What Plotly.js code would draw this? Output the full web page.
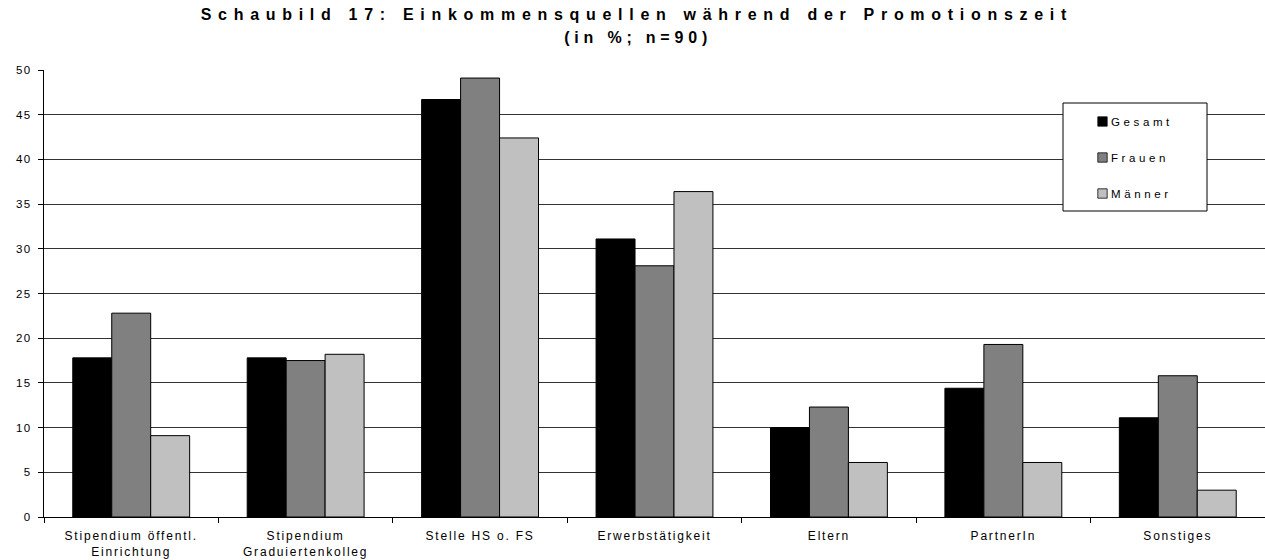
<!DOCTYPE html>
<html>
<head>
<meta charset="utf-8">
<script src="https://cdn.plot.ly/plotly-3.0.1.min.js"></script>
<style>
  html, body { margin: 0; padding: 0; background: #fff; }
  #chart { width: 1265px; height: 560px; }
  .annotation[data-index="0"] .annotation-text { letter-spacing: 6.7px; }
  .annotation[data-index="1"] .annotation-text { letter-spacing: 4.8px; }
  .xtick text { letter-spacing: 1.8px; }
  .ytick text { letter-spacing: 1.5px; }
  .legendtext { letter-spacing: 3.6px; }
  .legend .legendpoints path { transform: translateX(31.5px) scale(0.78); }
</style>
</head>
<body>
<div id="chart"></div>
<script>
const categories = [
  "Stipendium öffentl.<br>Einrichtung",
  "Stipendium<br>Graduiertenkolleg",
  "Stelle HS o. FS",
  "Erwerbstätigkeit",
  "Eltern",
  "PartnerIn",
  "Sonstiges"
];
const gesamt = [17.8, 17.8, 46.7, 31.1, 10.0, 14.4, 11.1];
const frauen = [22.8, 17.5, 49.1, 28.1, 12.3, 19.3, 15.8];
const maenner = [9.1, 18.2, 42.4, 36.4, 6.1, 6.1, 3.0];
const seriesNames = ["Gesamt", "Frauen", "Männer"];
const yTickVals = [0, 5, 10, 15, 20, 25, 30, 35, 40, 45, 50];
const titleLine = "Schaubild 17: Einkommensquellen während der Promotionszeit";
const subtitleLine = "(in %; n=90)";

const colors = ["#000000", "#808080", "#c0c0c0"];
const allSeries = [gesamt, frauen, maenner];

const traces = allSeries.map((vals, i) => ({
  type: "bar",
  name: seriesNames[i],
  x: categories,
  y: vals,
  legendgroup: "g" + i,
  marker: { color: colors[i], line: { color: "#000000", width: 1 } },
  hoverinfo: "x+y+name"
}));

const font = "'Liberation Sans', Arial, sans-serif";

// plot area: x 44..1265, y 70..517 (px)
const px2x = (px) => (px - 44) / 1221;
const px2y = (py) => (517 - py) / 447;

const layout = {
  width: 1265,
  height: 560,
  paper_bgcolor: "#ffffff",
  plot_bgcolor: "#ffffff",
  margin: { l: 44, r: 0, t: 70, b: 43 },
  font: { family: font, size: 11, color: "#000000" },
  annotations: [
    {
      text: "<b>" + titleLine + "</b>",
      xref: "paper", yref: "paper",
      x: px2x(637), y: px2y(15), xanchor: "center", yanchor: "middle",
      showarrow: false,
      font: { family: font, size: 16, color: "#000000" }
    },
    {
      text: "<b>" + subtitleLine + "</b>",
      xref: "paper", yref: "paper",
      x: px2x(638), y: px2y(37), xanchor: "center", yanchor: "middle",
      showarrow: false,
      font: { family: font, size: 16, color: "#000000" }
    }
  ],
  shapes: [
    {
      type: "rect", xref: "paper", yref: "paper", layer: "above",
      x0: px2x(1063), x1: px2x(1207), y0: px2y(211), y1: px2y(103),
      fillcolor: "#ffffff", line: { color: "#000000", width: 1 }
    }
  ],
  barmode: "group",
  bargap: 0.33,
  bargroupgap: 0,
  xaxis: {
    type: "category",
    showline: true, linecolor: "#000000", linewidth: 1,
    ticks: "outside", tickson: "boundaries", ticklen: 5, tickcolor: "#000000",
    showgrid: false,
    ticklabelstandoff: 8,
    tickfont: { family: font, size: 12, color: "#000000" },
    fixedrange: true
  },
  yaxis: {
    range: [0, 50],
    tickvals: yTickVals,
    ticktext: yTickVals.map(String),
    showline: true, linecolor: "#000000", linewidth: 1,
    ticks: "outside", ticklen: 5, tickcolor: "#000000",
    showgrid: true, gridcolor: "#333333", gridwidth: 1,
    zeroline: false,
    ticklabelstandoff: 4,
    tickfont: { family: font, size: 11.5, color: "#000000" },
    fixedrange: true
  },
  showlegend: true,
  legend: {
    x: px2x(1071), y: px2y(107), xanchor: "left", yanchor: "top",
    bgcolor: "rgba(0,0,0,0)", borderwidth: 0,
    font: { family: font, size: 11.5, color: "#000000" },
    traceorder: "grouped",
    tracegroupgap: 17,
    indentation: 0,
    itemwidth: 30
  }
};

Plotly.newPlot("chart", traces, layout, { displayModeBar: false });
</script>
</body>
</html>
